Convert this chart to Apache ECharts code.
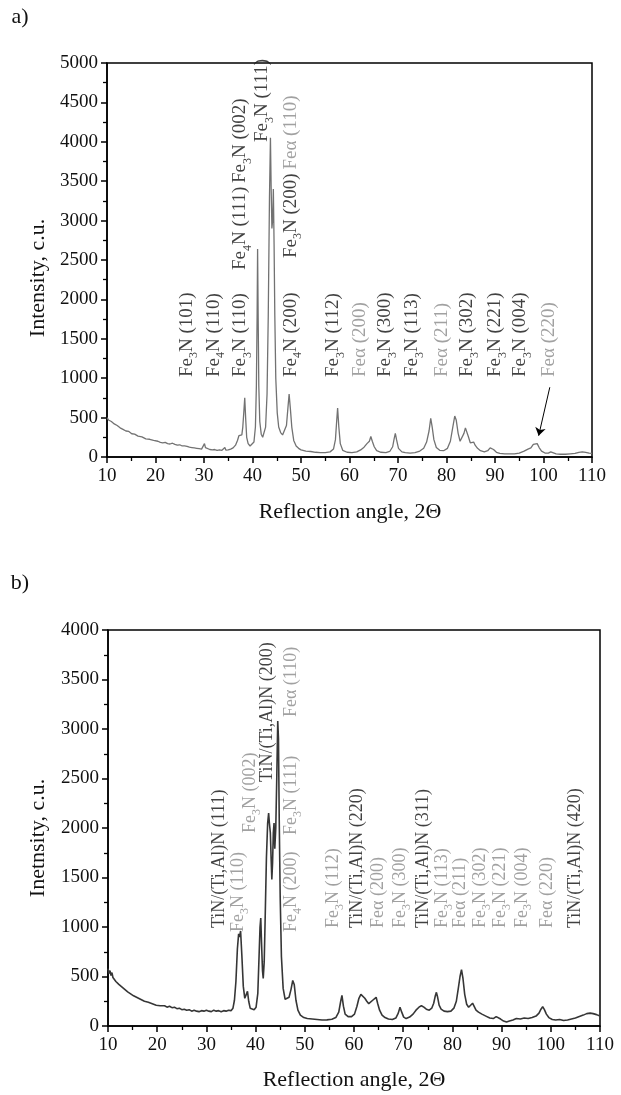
<!DOCTYPE html>
<html>
<head>
<meta charset="utf-8">
<title>XRD</title>
<script src="https://cdn.jsdelivr.net/npm/echarts@6/dist/echarts.min.js"></script>
<style>
  html, body { margin: 0; padding: 0; background: #fff; }
  #main { width: 621px; height: 1095px; }
</style>
</head>
<body>
<div id="main"></div>
<script>
// panel a) curve
var aX = [10.0,10.3,10.6,10.9,11.2,11.5,11.8,12.1,12.4,12.7,13.0,13.3,13.6,13.9,14.2,14.5,14.8,15.1,15.4,15.7,
  16.0,16.4,16.8,17.2,17.6,18.0,18.4,18.8,19.2,19.6,20.0,20.5,21.0,21.5,22.0,22.5,23.0,23.5,24.0,24.5,
  25.0,25.5,26.0,26.5,27.0,27.5,28.0,28.5,29.0,29.5,29.9,30.1,30.3,30.7,31.2,31.7,32.2,32.7,33.2,33.7,
  34.1,34.3,34.5,35.0,35.5,36.0,36.5,36.9,37.2,37.4,37.6,37.8,38.0,38.2,38.4,38.6,38.8,39.1,39.5,39.9,
  40.3,40.6,40.8,40.95,41.05,41.15,41.3,41.5,41.8,42.1,42.4,42.7,43.0,43.25,43.5,43.7,43.85,44.0,44.15,44.3,
  44.45,44.6,44.8,45.1,45.4,45.8,46.2,46.6,47.0,47.3,47.55,47.8,48.1,48.5,49.0,49.5,50.0,51.0,52.0,53.0,
  54.0,55.0,56.0,56.7,57.1,57.35,57.55,57.8,58.1,58.6,59.5,60.5,61.5,62.3,63.0,63.6,64.1,64.4,64.7,65.1,
  65.6,66.5,67.5,68.3,68.9,69.2,69.45,69.7,70.1,70.8,71.5,72.5,73.5,74.5,75.3,75.9,76.4,76.75,77.05,77.4,
  77.9,78.6,79.4,80.2,80.8,81.3,81.7,82.0,82.4,82.8,83.2,83.6,83.9,84.2,84.5,84.9,85.3,85.6,85.9,86.4,
  87.0,87.8,88.5,89.0,89.3,89.7,90.3,91.0,92.0,93.0,94.0,95.0,96.0,96.8,97.4,97.9,98.3,98.7,99.1,99.6,
  100.3,101.0,101.5,101.9,102.6,103.5,104.5,105.5,106.5,107.3,108.0,108.7,109.4,110.0];
var aY = [500,470,485,450,440,420,430,400,395,370,375,350,345,330,320,325,300,295,285,290,
  270,265,250,255,235,230,220,225,205,210,195,200,185,180,185,170,165,175,160,150,
  155,140,140,135,125,120,115,110,105,100,115,170,120,100,95,90,95,85,90,85,
  90,120,88,90,100,115,150,210,270,290,250,280,380,560,750,480,250,170,140,140,
  190,380,900,1800,2640,1900,900,450,290,250,270,380,800,1800,3300,4050,3400,2900,3000,3400,
  2700,1800,1000,560,380,310,280,300,400,620,800,620,380,210,140,110,90,75,70,60,
  55,55,65,100,220,450,620,380,170,85,60,55,65,90,125,170,200,260,200,130,
  80,60,55,70,130,230,300,220,110,65,55,50,55,75,110,190,330,490,380,220,
  120,85,80,110,200,380,520,470,300,200,200,300,370,350,260,180,170,190,150,110,
  80,65,80,115,130,95,60,45,40,40,40,50,75,100,115,160,185,170,120,75,
  50,50,65,55,40,35,35,40,45,60,65,60,50,45];

// panel b) curve
var bX = [10.0,10.2,10.4,10.6,10.8,11.0,11.3,11.6,11.9,12.2,12.5,12.8,13.1,13.4,13.7,14.0,14.3,14.6,14.9,15.2,
  15.5,15.8,16.2,16.6,17.0,17.4,17.8,18.2,18.6,19.0,19.4,19.8,20.2,20.6,21.0,21.5,22.0,22.5,23.0,23.5,
  24.0,24.5,25.0,25.5,26.0,26.5,27.0,27.5,28.0,28.5,29.0,29.5,30.0,30.5,31.0,31.5,32.0,32.5,33.0,33.5,
  34.0,34.5,35.0,35.4,35.7,36.0,36.3,36.55,36.75,36.95,37.2,37.5,37.8,38.1,38.35,38.6,38.9,39.3,39.7,40.1,
  40.45,40.7,40.9,41.05,41.2,41.4,41.55,41.75,41.95,42.2,42.45,42.65,42.8,43.0,43.15,43.3,43.45,43.6,43.75,43.9,
  44.1,44.3,44.5,44.65,44.8,45.0,45.25,45.6,46.0,46.4,46.8,47.2,47.55,47.85,48.2,48.6,49.1,49.8,50.5,51.5,
  52.5,53.5,54.5,55.5,56.3,56.9,57.3,57.55,57.85,58.2,58.8,59.5,60.1,60.6,61.0,61.4,61.8,62.2,62.6,63.0,
  63.4,63.8,64.2,64.5,64.8,65.2,65.7,66.3,67.0,67.8,68.5,69.0,69.35,69.7,70.1,70.6,71.3,72.0,72.6,73.2,
  73.7,74.2,74.7,75.3,75.8,76.2,76.5,76.75,77.0,77.3,77.7,78.3,79.0,79.7,80.3,80.8,81.2,81.55,81.85,82.15,
  82.5,82.9,83.3,83.7,84.1,84.4,84.8,85.3,86.0,86.8,87.6,88.3,88.9,89.3,89.8,90.4,91.0,91.6,92.3,93.0,
  93.8,94.6,95.4,96.2,97.0,97.6,98.0,98.35,98.7,99.1,99.6,100.3,101.0,101.8,102.6,103.4,104.2,105.0,105.8,106.6,
  107.3,108.0,108.6,109.3,110.0];
var bY = [580,530,560,510,540,490,480,450,460,420,430,395,400,370,375,345,355,325,330,305,
  310,290,295,270,275,250,255,240,235,225,230,210,215,205,200,205,190,200,185,190,
  175,180,165,170,160,165,150,160,150,145,155,150,160,150,145,160,150,155,145,155,
  150,160,155,180,260,450,780,930,900,960,720,400,280,260,350,250,180,160,165,190,
  330,700,1000,1090,850,560,480,650,1100,1700,2050,2150,2050,1950,1700,1480,1650,1950,2050,1790,
  2000,2500,3080,2900,2100,1300,700,380,270,260,290,370,460,420,260,160,110,85,75,70,
  65,60,62,68,85,140,250,310,200,120,95,95,120,200,280,320,310,280,250,225,
  240,260,280,290,230,160,110,85,70,65,80,130,190,140,90,75,90,120,160,190,
  205,190,170,160,180,230,300,340,290,210,170,150,145,150,180,250,380,500,570,480,
  320,220,190,210,230,200,160,140,120,100,80,75,95,90,70,50,40,50,60,75,
  70,80,75,85,100,130,170,195,165,120,85,65,60,65,55,60,70,80,95,110,
  125,130,125,115,100];

// peak labels: angle, base intensity, text ("_3" = subscript, "~" = switch to grey)
var aLabelX = [26.4, 32.0, 37.4, 47.9, 56.6, 62.2, 67.4, 72.9, 79.0, 84.3, 90.0, 95.2, 101.1, 37.4, 42.0, 47.9];
var aLabelY = [1015, 1015, 1015, 1015, 1015, 1015, 1015, 1015, 1015, 1015, 1015, 1015, 1015, 2373, 3997, 2525];
var aLabelText = ['Fe_3N (101)', 'Fe_4N (110)', 'Fe_3N (110)', 'Fe_4N (200)', 'Fe_3N (112)', '~Feα (200)',
  'Fe_3N (300)', 'Fe_3N (113)', '~Feα (211)', 'Fe_3N (302)', 'Fe_3N (221)', 'Fe_3N (004)', '~Feα (220)',
  'Fe_4N (111)\u2009Fe_3N (002)', 'Fe_3N (111)', 'Fe_3N (200)\u2009~Feα (110)'];
var arrowFrom = [101.3, 885];
var arrowTo = [99.0, 270];

var bLabelX = [32.7, 36.5, 38.9, 42.3, 47.2, 47.2, 47.2, 55.7, 60.6, 65.0, 69.5, 74.1, 77.9, 81.6, 85.6, 89.8, 94.1, 99.3, 105.0];
var bLabelY = [990, 950, 1950, 2465, 3120, 1930, 950, 990, 990, 990, 990, 990, 990, 990, 990, 990, 990, 990, 990];
var bLabelText = ['TiN/(Ti,Al)N (111)', '~Fe_3N (110)', '~Fe_3N (002)', 'TiN/(Ti,Al)N (200)', '~Feα (110)',
  '~Fe_3N (111)', '~Fe_4N (200)', '~Fe_3N (112)', 'TiN/(Ti,Al)N (220)', '~Feα (200)', '~Fe_3N (300)',
  'TiN/(Ti,Al)N (311)', '~Fe_3N (113)', '~Feα (211)', '~Fe_3N (302)', '~Fe_3N (221)', '~Fe_3N (004)',
  '~Feα (220)', 'TiN/(Ti,Al)N (420)'];

var serif = '"Liberation Serif", "DejaVu Serif", serif';

function zip(xs, ys) {
  return xs.map(function (x, i) { return [x, ys[i]]; });
}

// turn label markup into rich text tokens
function fmt(t) {
  var out = '';
  t.split('~').forEach(function (part, i) {
    if (!part) return;
    var c = i === 0 ? 'k' : 'g';
    part.split(/_(\d)/).forEach(function (seg, j) {
      if (!seg) return;
      out += '{' + c + (j % 2 ? 's' : '') + '|' + seg + '}';
    });
  });
  return out;
}

function richStyles(size) {
  var lh = Math.round(size * 1.4);
  return {
    k: { color: '#111', fontSize: size, fontFamily: serif, lineHeight: lh },
    ks: { color: '#111', fontSize: Math.round(size * 0.65), fontFamily: serif, lineHeight: 12, verticalAlign: 'bottom' },
    g: { color: '#8a8a8a', fontSize: size, fontFamily: serif, lineHeight: lh },
    gs: { color: '#8a8a8a', fontSize: Math.round(size * 0.65), fontFamily: serif, lineHeight: 12, verticalAlign: 'bottom' }
  };
}

function labelSeries(idx, xs, ys, texts, size) {
  return {
    type: 'scatter',
    xAxisIndex: idx,
    yAxisIndex: idx,
    symbolSize: 0.1,
    itemStyle: { color: 'transparent' },
    silent: true,
    z: 5,
    data: xs.map(function (x, i) { return { value: [x, ys[i]], txt: texts[i] }; }),
    label: {
      show: true,
      position: 'inside',
      rotate: 90,
      align: 'left',
      verticalAlign: 'middle',
      formatter: function (p) { return fmt(p.data.txt); },
      rich: richStyles(size)
    }
  };
}

function xAxisOpt(idx) {
  return {
    type: 'value', gridIndex: idx, min: 10, max: 110, interval: 10,
    axisLine: { onZero: false, lineStyle: { color: '#000', width: 1.5 } },
    axisTick: { length: 6, lineStyle: { color: '#000', width: 1.5 } },
    minorTick: { show: true, splitNumber: 2, length: 4, lineStyle: { color: '#000', width: 1.3 } },
    axisLabel: { color: '#111', fontSize: 19, fontFamily: serif, margin: 10 },
    splitLine: { show: false }
  };
}

function yAxisOpt(idx, max) {
  return {
    type: 'value', gridIndex: idx, min: 0, max: max, interval: 500,
    axisLine: { show: true, lineStyle: { color: '#000', width: 1.5 } },
    axisTick: { show: true, length: 6, lineStyle: { color: '#000', width: 1.5 } },
    minorTick: { show: true, splitNumber: 2, length: 4, lineStyle: { color: '#000', width: 1.3 } },
    axisLabel: {
      color: '#111', fontSize: 19, fontFamily: serif, margin: 9,
      formatter: function (v) { return String(v); }
    },
    splitLine: { show: false }
  };
}

function title(txt, x, y, rot) {
  return {
    type: 'text', x: x, y: y, rotation: rot || 0,
    style: { text: txt, font: '22px ' + serif, fill: '#111', align: 'center', verticalAlign: 'middle' }
  };
}

var chart = echarts.init(document.getElementById('main'), null, { renderer: 'canvas' });
chart.setOption({
  animation: false,
  backgroundColor: '#fff',
  grid: [
    { left: 107, top: 63, width: 485, height: 394, show: true, borderColor: '#000', borderWidth: 1.5 },
    { left: 108, top: 630, width: 492, height: 396, show: true, borderColor: '#000', borderWidth: 1.5 }
  ],
  xAxis: [xAxisOpt(0), xAxisOpt(1)],
  yAxis: [yAxisOpt(0, 5000), yAxisOpt(1, 4000)],
  graphic: [
    title('a)', 20, 17),
    title('b)', 20, 583),
    title('Reflection angle, 2Θ', 350, 512),
    title('Reflection angle, 2Θ', 354, 1080),
    title('Intensity, c.u.', 38, 278, Math.PI / 2),
    title('Inetnsity, c.u.', 38, 838, Math.PI / 2)
  ],
  series: [
    {
      type: 'line', xAxisIndex: 0, yAxisIndex: 0, showSymbol: false, silent: true,
      lineStyle: { color: '#727272', width: 1.3 },
      data: zip(aX, aY),
      markLine: {
        silent: true, symbol: ['none', 'arrow'], symbolSize: 8,
        lineStyle: { color: '#000', width: 1, type: 'solid' },
        label: { show: false },
        data: [[{ coord: arrowFrom }, { coord: arrowTo }]]
      }
    },
    {
      type: 'line', xAxisIndex: 1, yAxisIndex: 1, showSymbol: false, silent: true,
      lineStyle: { color: '#363636', width: 1.6 },
      data: zip(bX, bY)
    },
    labelSeries(0, aLabelX, aLabelY, aLabelText, 19),
    labelSeries(1, bLabelX, bLabelY, bLabelText, 18)
  ]
});
</script>
</body>
</html>
